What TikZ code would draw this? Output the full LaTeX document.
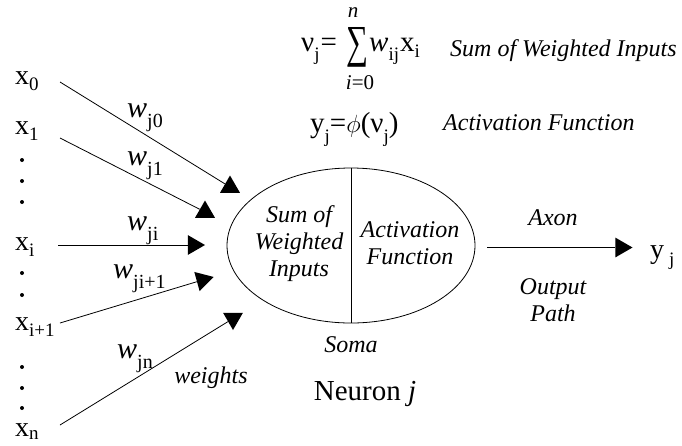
\documentclass[tikz,border=0pt]{standalone}
\usepackage{fontspec}
\setmainfont{Liberation Serif}
\usetikzlibrary{shapes.geometric}
\newcommand\lsub[2][6pt]{\raisebox{-#1}{\fontsize{19}{19}\selectfont #2}}
\newcommand\wsub[2][10pt]{\raisebox{-#1}{\fontsize{20}{20}\selectfont #2}}
\begin{document}
\begin{tikzpicture}[x=1pt,y=-1pt,
  inp/.style={font=\fontsize{28}{28}\selectfont, inner sep=0pt},
  wlab/.style={font=\fontsize{30}{30}\selectfont, inner sep=0pt},
  eq/.style={font=\fontsize{29}{29}\selectfont, inner sep=0pt},
  lim/.style={font=\fontsize{21}{21}\selectfont, inner sep=0pt},
  lab/.style={font=\fontsize{24}{27}\selectfont\itshape, align=center, inner sep=0pt},
  toplab/.style={font=\fontsize{24}{24}\selectfont\itshape, inner sep=0pt},
  tri/.style={regular polygon, regular polygon sides=3, fill=black, draw=none, inner sep=0pt, minimum size=23pt},
  dotn/.style={circle, fill=black, inner sep=0pt, minimum size=4pt},
  wire/.style={line width=0.8pt}]
\useasboundingbox (0,0) rectangle (682,445);

% inputs
\node[inp, anchor=base west] (x0) at (15,84) {x\lsub{0}};
\node[inp, anchor=base west] (x1) at (15,134) {x\lsub{1}};
\node[inp, anchor=base west] (xi) at (15,250) {x\lsub{i}};
\node[inp, anchor=base west] (xi1) at (15,330) {x\lsub{i+1}};
\node[inp, anchor=base west] (xn) at (15,436) {x\lsub[3pt]{n}};

% dots
\node[dotn] (d1) at (22,160) {};
\node[dotn] (d2) at (22,181) {};
\node[dotn] (d3) at (22,202) {};
\node[dotn] (d4) at (22,273) {};
\node[dotn] (d5) at (22,295) {};
\node[dotn] (d6) at (22,367) {};
\node[dotn] (d7) at (22,388) {};
\node[dotn] (d8) at (22,408) {};

% start points of the input lines
\coordinate (s0) at (60,82);
\coordinate (s1) at (60,138);
\coordinate (si) at (58,245);
\coordinate (si1) at (60,323);
\coordinate (sn) at (60,425);

% arrowheads
\node[tri] (t0) at (230,187) {};
\node[tri] (t1) at (205,212) {};
\node[tri, shape border rotate=-90] (ti) at (193.5,245) {};
\node[tri, shape border rotate=165.5] (ti1) at (202.5,280) {};
\node[tri, shape border rotate=180] (tn) at (233,318.5) {};
\node[tri, shape border rotate=-90] (tout) at (621,247.5) {};

\draw[wire] (s0) -- (t0);
\draw[wire] (s1) -- (t1);
\draw[wire] (si) -- (ti);
\draw[wire] (si1) -- (ti1);
\draw[wire] (sn) -- (tn);

% weights
\node[wlab, anchor=base west] (w0) at (127,117) {\textit{w}\wsub{j0}};
\node[wlab, anchor=base west] (w1) at (127,165) {\textit{w}\wsub{j1}};
\node[wlab, anchor=base west] (wi) at (127,230) {\textit{w}\wsub{ji}};
\node[wlab, anchor=base west] (wi1) at (113,278) {\textit{w}\wsub{ji+1}};
\node[wlab, anchor=base west] (wn) at (117,358) {\textit{w}\wsub{jn}};
\node[lab] (weights) at (211,378) {weights};

% soma
\node[draw, ellipse, line width=0.8pt, minimum width=248pt, minimum height=155pt, inner sep=0pt] (soma) at (351,245.5) {};
\draw[wire] (soma.north) -- (soma.south);
\node[lab] (sumw) at (299,244) {Sum of\\Weighted\\Inputs};
\node[lab] (actf) at (410,243) {Activation\\Function};
\node[lab] (somal) at (351,345) {Soma};
\node[font=\fontsize{29}{29}\selectfont, inner sep=0pt] (neuron) at (365,394) {Neuron \textit{j}};

% output
\coordinate (os) at (487,247.5);
\draw[wire] (os) -- (tout);
\node[inp, anchor=base west] (yj) at (650,258) {y\hspace{5pt}\lsub[7pt]{j}};
\node[lab] (axon) at (553,218) {Axon};
\node[lab] (opath) at (553,300) {Output\\Path};

% formulas
\node[eq, anchor=base west] (nuj) at (301,51) {ν\lsub[9pt]{j}\hspace{1pt}=};
\node[inner sep=0pt] (sig) at (357,47.5) {\resizebox{22pt}{30pt}{∑}};
\node[eq, anchor=base west] (wx) at (369,51) {\textit{w}\lsub[9pt]{ij}\hspace{1pt}x\lsub{i}};
\node[lim, anchor=center] (upn) at (353,12.5) {\textit{n}};
\node[lim, anchor=center] (low) at (360,83) {\textit{i}=0};
\node[eq, anchor=base west] (act) at (310,132) {y\lsub[10pt]{j}=$\phi$(ν\lsub[10pt]{j})};
\node[toplab, anchor=base west] (lsum) at (450,56) {Sum of Weighted Inputs};
\node[toplab, anchor=base west] (lact) at (443,130) {Activation Function};
\end{tikzpicture}
\end{document}
